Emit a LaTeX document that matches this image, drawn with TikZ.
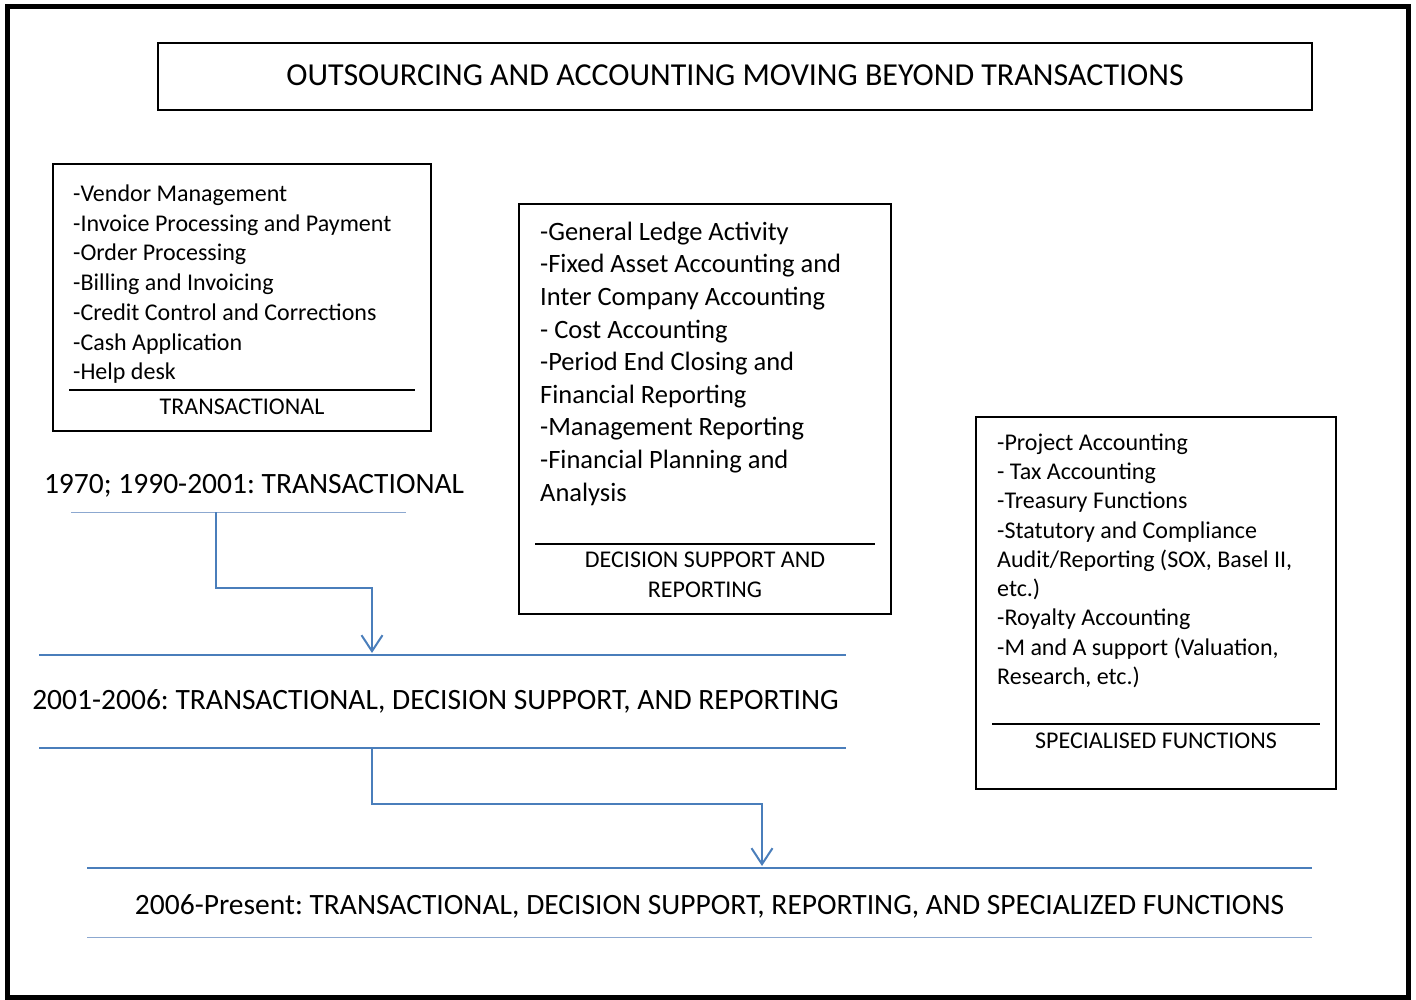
\documentclass[tikz,border=0pt]{standalone}
\usepackage{fontspec}
\setmainfont{Carlito}
\usetikzlibrary{arrows.meta}
\frenchspacing

\definecolor{ruleblue}{HTML}{4A7EBB}
\definecolor{faintblue}{HTML}{8CA8D0}

\tikzset{
    box/.style={draw, line width=1.6pt, inner sep=0pt},
    list/.style={align=left, inner sep=0pt, anchor=base west},
    caption/.style={align=center, inner sep=0pt, anchor=base},
    era/.style={inner sep=0pt, anchor=base, font=\fontsize{29.5}{35}\selectfont},
    flow/.style={draw=ruleblue, line width=2pt, -{Straight Barb[length=16pt, width=21pt]}},
}

\begin{document}
\begin{tikzpicture}[x=1pt, y=-1pt]
    \useasboundingbox (0,0) rectangle (1416,1000);
    \draw[line width=5pt] (7.5,6.5) rectangle (1408.5,997.5);

    \node[box, minimum width=1154, minimum height=67, font=\fontsize{32}{38}\selectfont] (title) at (735,76.5)
        {\raisebox{2pt}{OUTSOURCING AND ACCOUNTING MOVING BEYOND TRANSACTIONS}};

    % the three boxes
    \begin{scope}[every node/.style={box}]
        \node[minimum width=378, minimum height=267] (trans) at (242,297.5) {};
        \node[minimum width=372, minimum height=410] (decis) at (705,409)   {};
        \node[minimum width=360, minimum height=372] (spec)  at (1156,603)  {};
    \end{scope}

    \begin{scope}[line width=1.6pt]
        \draw (69,390)  -- (415,390);
        \draw (535,544) -- (875,544);
        \draw (992,724) -- (1320,724);
    \end{scope}

    % lists sit on the baseline of their last line
    \node[list, font=\fontsize{24}{29.7}\selectfont] (translist) at (73,379.7) {
        -Vendor Management\\
        -Invoice Processing and Payment\\
        -Order Processing\\
        -Billing and Invoicing\\
        -Credit Control and Corrections\\
        -Cash Application\\
        -Help desk
    };
    \node[list, font=\fontsize{26.5}{32.6}\selectfont] (decislist) at (540,501) {
        -General Ledge Activity\\
        -Fixed Asset Accounting and\\
        Inter Company Accounting\\
        - Cost Accounting\\
        -Period End Closing and\\
        Financial Reporting\\
        -Management Reporting\\
        -Financial Planning and\\
        Analysis
    };
    \node[list, font=\fontsize{24}{29.3}\selectfont] (speclist) at (997,684.5) {
        -Project Accounting\\
        - Tax Accounting\\
        -Treasury Functions\\
        -Statutory and Compliance\\
        Audit/Reporting (SOX, Basel II,\\
        etc.)\\
        -Royalty Accounting\\
        -M and A support (Valuation,\\
        Research, etc.)
    };

    \begin{scope}[every node/.style={caption, font=\fontsize{24}{30}\selectfont}]
        \node (transcap) at (242,414)  {TRANSACTIONAL};
        \node (deciscap) at (705,597.7)  {DECISION SUPPORT AND\\REPORTING};
        \node (speccap)  at (1156,748) {SPECIALISED FUNCTIONS};
    \end{scope}

    % time line
    \node[era] (era1) at (254,493)   {1970; 1990-2001: TRANSACTIONAL};
    \node[era] (era2) at (435.5,709) {2001-2006: TRANSACTIONAL, DECISION SUPPORT, AND REPORTING};
    \node[era] (era3) at (709.5,914) {2006-Present: TRANSACTIONAL, DECISION SUPPORT, REPORTING, AND SPECIALIZED FUNCTIONS};

    \coordinate (a1s) at (216,512);
    \coordinate (a1e) at (372,653);
    \coordinate (a2s) at (372,748);
    \coordinate (a2e) at (762,866);

    \draw[faintblue, line width=1pt] (71,512) -- (406,512);
    \begin{scope}[ruleblue, line width=2pt]
        \draw (39,655) -- (846,655);
        \draw (39,748) -- (846,748);
        \draw (87,868) -- (1312,868);
    \end{scope}
    \draw[faintblue, line width=1pt] (87,937) -- (1312,937);

    \draw[flow] (a1s) -- ++(0,76) -| (a1e);
    \draw[flow] (a2s) -- ++(0,56) -| (a2e);
\end{tikzpicture}
\end{document}
